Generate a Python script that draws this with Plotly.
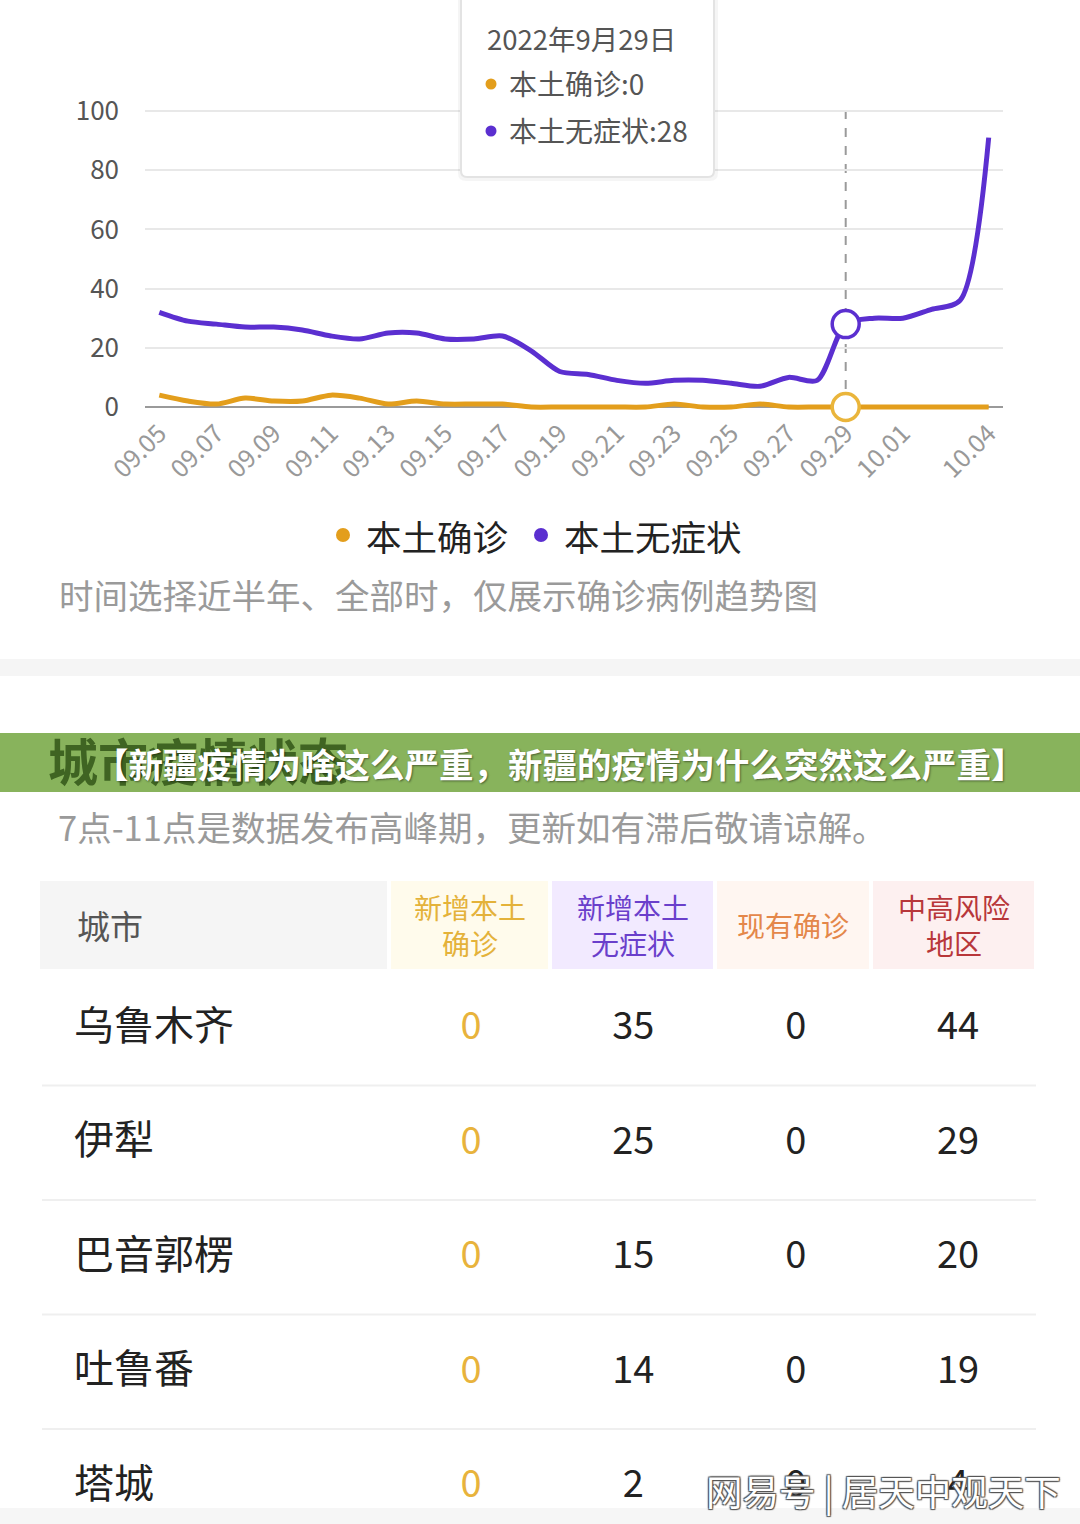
import plotly.graph_objects as go

W, H = 1080, 1524
FONT = "Noto Sans CJK SC, Noto Sans, sans-serif"

# ---------------- data ----------------
dates = ["09.05", "09.06", "09.07", "09.08", "09.09", "09.10", "09.11", "09.12",
         "09.13", "09.14", "09.15", "09.16", "09.17", "09.18", "09.19", "09.20",
         "09.21", "09.22", "09.23", "09.24", "09.25", "09.26", "09.27", "09.28",
         "09.29", "09.30", "10.01", "10.02", "10.03", "10.04"]
xtick_labels = ["09.05", "09.07", "09.09", "09.11", "09.13", "09.15", "09.17",
                "09.19", "09.21", "09.23", "09.25", "09.27", "09.29", "10.01", "10.04"]
ytick_values = [0, 20, 40, 60, 80, 100]
confirmed = [4, 2, 1, 3, 2, 2, 4, 3, 1, 2, 1, 1, 1, 0, 0, 0, 0, 0, 1, 0,
             0, 1, 0, 0, 0, 0, 0, 0, 0, 0]
asymptomatic = [32, 29, 28, 27, 27, 26, 24, 23, 25, 25, 23, 23, 24, 19, 12, 11,
                9, 8, 9, 9, 8, 7, 10, 9, 28, 30, 30, 33, 36, 91]
series_names = ["本土确诊", "本土无症状"]
focus_date = "09.29"
focus_label = "2022年9月29日"

cities = ["乌鲁木齐", "伊犁", "巴音郭楞", "吐鲁番", "塔城"]
columns = ["新增本土确诊", "新增本土无症状", "现有确诊", "中高风险地区"]
column_headers = ["新增本土<br>确诊", "新增本土<br>无症状", "现有确诊", "中高风险<br>地区"]
new_confirmed = [0, 0, 0, 0, 0]
new_asymptomatic = [35, 25, 15, 14, 2]
existing_confirmed = [0, 0, 0, 0, 0]
risk_areas = [44, 29, 20, 19, 4]

# ---------------- styles ----------------
ORANGE = "#e39e1c"
PURPLE = "#5b2fd0"
HEADER_BG = ["#fffbec", "#f2eaff", "#fff6f1", "#fdf0f0"]
HEADER_FG = ["#e4b23a", "#6a3fcb", "#e4874a", "#b8373a"]
HEADER_EDGES = [(391, 548), (552, 713), (717, 869), (873, 1034)]
VALUE_FG = ["#e8b33c", "#222222", "#222222", "#222222"]


def px(x):
    return x / W


def py(y):
    return 1 - y / H


fig = go.Figure()

# ---------------- line chart ----------------
fig.add_trace(go.Scatter(x=dates, y=confirmed, mode="lines", name=series_names[0],
                         line=dict(color=ORANGE, width=5, shape="spline", smoothing=0.8),
                         hoverinfo="skip", xaxis="x", yaxis="y"))
fig.add_trace(go.Scatter(x=dates, y=asymptomatic, mode="lines", name=series_names[1],
                         line=dict(color=PURPLE, width=5, shape="spline", smoothing=0.8),
                         hoverinfo="skip", xaxis="x", yaxis="y"))
fi = dates.index(focus_date)
fig.add_trace(go.Scatter(x=[focus_date], y=[asymptomatic[fi]], mode="markers",
                         marker=dict(size=27, color="white", line=dict(color=PURPLE, width=3.5)),
                         cliponaxis=False, hoverinfo="skip", xaxis="x", yaxis="y"))
fig.add_trace(go.Scatter(x=[focus_date], y=[confirmed[fi]], mode="markers",
                         marker=dict(size=27, color="white", line=dict(color="#eab53b", width=3.5)),
                         cliponaxis=False, hoverinfo="skip", xaxis="x", yaxis="y"))

# ---------------- table values ----------------
table_cols = [new_confirmed, new_asymptomatic, existing_confirmed, risk_areas]
for j, vals in enumerate(table_cols):
    fig.add_trace(go.Scatter(x=[columns[j]] * len(cities), y=cities, mode="text",
                             text=[str(v) for v in vals], textposition="middle center",
                             textfont=dict(family=FONT, size=38, color=VALUE_FG[j]),
                             cliponaxis=False, hoverinfo="skip", xaxis="x2", yaxis="y2"))
fig.add_trace(go.Scatter(x=[0] * len(cities), y=cities, mode="text", text=cities,
                         textposition="middle right",
                         textfont=dict(family=FONT, size=40, color="#222222"),
                         cliponaxis=False, hoverinfo="skip", xaxis="x3", yaxis="y2"))

shapes = []
annotations = []

# dashed focus line (category index of the focus date)
shapes.append(dict(type="line", xref="x", yref="y", x0=fi, x1=fi, y0=0, y1=100,
                   line=dict(color="#9a9a9a", width=2, dash="dash"), layer="below"))


def rrect(x0, y0, x1, y1, r):
    X = lambda v: f"{px(v):.6f}"
    Y = lambda v: f"{py(v):.6f}"
    return (f"M {X(x0 + r)} {Y(y0)} L {X(x1 - r)} {Y(y0)} Q {X(x1)} {Y(y0)} {X(x1)} {Y(y0 + r)} "
            f"L {X(x1)} {Y(y1 - r)} Q {X(x1)} {Y(y1)} {X(x1 - r)} {Y(y1)} "
            f"L {X(x0 + r)} {Y(y1)} Q {X(x0)} {Y(y1)} {X(x0)} {Y(y1 - r)} "
            f"L {X(x0)} {Y(y0 + r)} Q {X(x0)} {Y(y0)} {X(x0 + r)} {Y(y0)} Z")


# tooltip box with soft shadow
shapes.append(dict(type="path", xref="paper", yref="paper", path=rrect(458, -12, 718, 181, 8),
                   fillcolor="rgba(0,0,0,0.04)", line=dict(width=0), layer="above"))
shapes.append(dict(type="path", xref="paper", yref="paper", path=rrect(461, -10, 714, 177, 6),
                   fillcolor="white", line=dict(color="#e3e3e3", width=2), layer="above"))


def dot(cx, cy, r, color):
    shapes.append(dict(type="circle", xref="paper", yref="paper",
                       x0=px(cx - r), x1=px(cx + r), y0=py(cy + r), y1=py(cy - r),
                       fillcolor=color, line=dict(width=0), layer="above"))


dot(491, 84, 5.5, ORANGE)
dot(491, 131, 5.5, PURPLE)
dot(343, 535, 7, ORANGE)
dot(541, 535, 7, PURPLE)


def text(x, y, s, size, color, xanchor="left", **kw):
    annotations.append(dict(x=px(x), y=py(y), xref="paper", yref="paper", text=s,
                            showarrow=False, xanchor=xanchor, yanchor="middle",
                            font=dict(family=FONT, size=size, color=color, **kw.pop("font", {})),
                            **kw))


text(485, 38, focus_label, 27.5, "#555555")
text(507, 83, f"{series_names[0]}:{confirmed[fi]}", 28, "#555555")
text(507, 130, f"{series_names[1]}:{asymptomatic[fi]}", 28, "#555555")

# legend
text(364, 535, series_names[0], 35.5, "#222222")
text(562, 535, series_names[1], 35.5, "#222222")

# subtitle
text(57, 594, "时间选择近半年、全部时，仅展示确诊病例趋势图", 34.5, "#9a9a9a")

# section separator band
shapes.append(dict(type="rect", xref="paper", yref="paper", x0=0, x1=1, y0=py(676), y1=py(659),
                   fillcolor="#f5f5f5", line=dict(width=0), layer="above"))

# green banner over section title
shapes.append(dict(type="rect", xref="paper", yref="paper", x0=0, x1=1, y0=py(792), y1=py(733),
                   fillcolor="#88b35c", line=dict(width=0), layer="above"))
text(46, 759, "<b>城市疫情状态</b>", 50, "#3f6422")
text(92, 763, "<b>【新疆疫情为啥这么严重，新疆的疫情为什么突然这么严重】</b>", 34.5, "white",
     font=dict(shadow="1px 1px 2px rgba(0,0,0,0.45)"))

# notice
text(56, 826, "7点-11点是数据发布高峰期，更新如有滞后敬请谅解。", 34.5, "#9a9a9a")

# table header
shapes.append(dict(type="rect", xref="paper", yref="paper", x0=px(40), x1=px(387),
                   y0=py(969), y1=py(881), fillcolor="#f5f5f5", line=dict(width=0)))
text(75, 925, "城市", 33, "#555555")
for j in range(len(columns)):
    e0, e1 = HEADER_EDGES[j]
    shapes.append(dict(type="rect", xref="paper", yref="paper", x0=px(e0), x1=px(e1),
                       y0=py(969), y1=py(881), fillcolor=HEADER_BG[j], line=dict(width=0)))
    annotations.append(dict(x=px((e0 + e1) / 2), y=py(925), xref="paper", yref="paper",
                            text=column_headers[j],
                            showarrow=False, xanchor="center", yanchor="middle", align="center",
                            font=dict(family=FONT, size=28, color=HEADER_FG[j])))

# row separators
for i in range(len(cities) - 1):
    shapes.append(dict(type="line", xref="paper", yref="y2", x0=px(42), x1=px(1036),
                       y0=i + 0.485, y1=i + 0.485, line=dict(color="#efefef", width=2)))

# bottom band
shapes.append(dict(type="rect", xref="paper", yref="paper", x0=0, x1=1, y0=0, y1=py(1508),
                   fillcolor="#f6f6f6", line=dict(width=0), layer="above"))

# watermark
text(704, 1490, "网易号 | 居天中观天下", 36.5, "white",
     font=dict(shadow="1px 1px 1px #555, -1px -1px 1px #555, 1px -1px 1px #555, -1px 1px 1px #555"))

fig.update_layout(
    width=W, height=H, margin=dict(l=0, r=0, t=0, b=0, pad=0, autoexpand=False),
    paper_bgcolor="white", plot_bgcolor="white", showlegend=False,
    font=dict(family=FONT),
    xaxis=dict(domain=[px(145), px(1003)], type="category", categoryorder="array",
               categoryarray=dates, range=[-0.5, len(dates) - 0.5],
               tickmode="array", tickvals=xtick_labels, ticktext=xtick_labels,
               tickangle=-45, tickfont=dict(family=FONT, size=25, color="#999999"),
               showgrid=False, zeroline=False, showline=False, anchor="y",
               ticks="", automargin=False),
    yaxis=dict(domain=[py(412.92), py(99.16)], range=[-2, 104], tickmode="array",
               tickvals=ytick_values, tickfont=dict(family=FONT, size=26, color="#555555"),
               showgrid=True, gridcolor="#e8e8e8", gridwidth=2,
               zeroline=True, zerolinecolor="#9a9a9a", zerolinewidth=2,
               showline=False, anchor="x", ticklabelstandoff=25, automargin=False),
    xaxis2=dict(domain=[px(389.8), px(1039.2)], type="category", categoryorder="array",
                categoryarray=columns, range=[-0.5, 3.5], visible=False, anchor="y2",
                automargin=False),
    yaxis2=dict(domain=[0, py(969.75)], type="category", categoryorder="array",
                categoryarray=cities, range=[4.315, -0.525], visible=False, anchor="x2",
                automargin=False),
    xaxis3=dict(domain=[px(74), px(380)], range=[0, 1], visible=False, anchor="y2",
                automargin=False),
    shapes=shapes,
    annotations=annotations,
)

fig.write_html("out.html")
